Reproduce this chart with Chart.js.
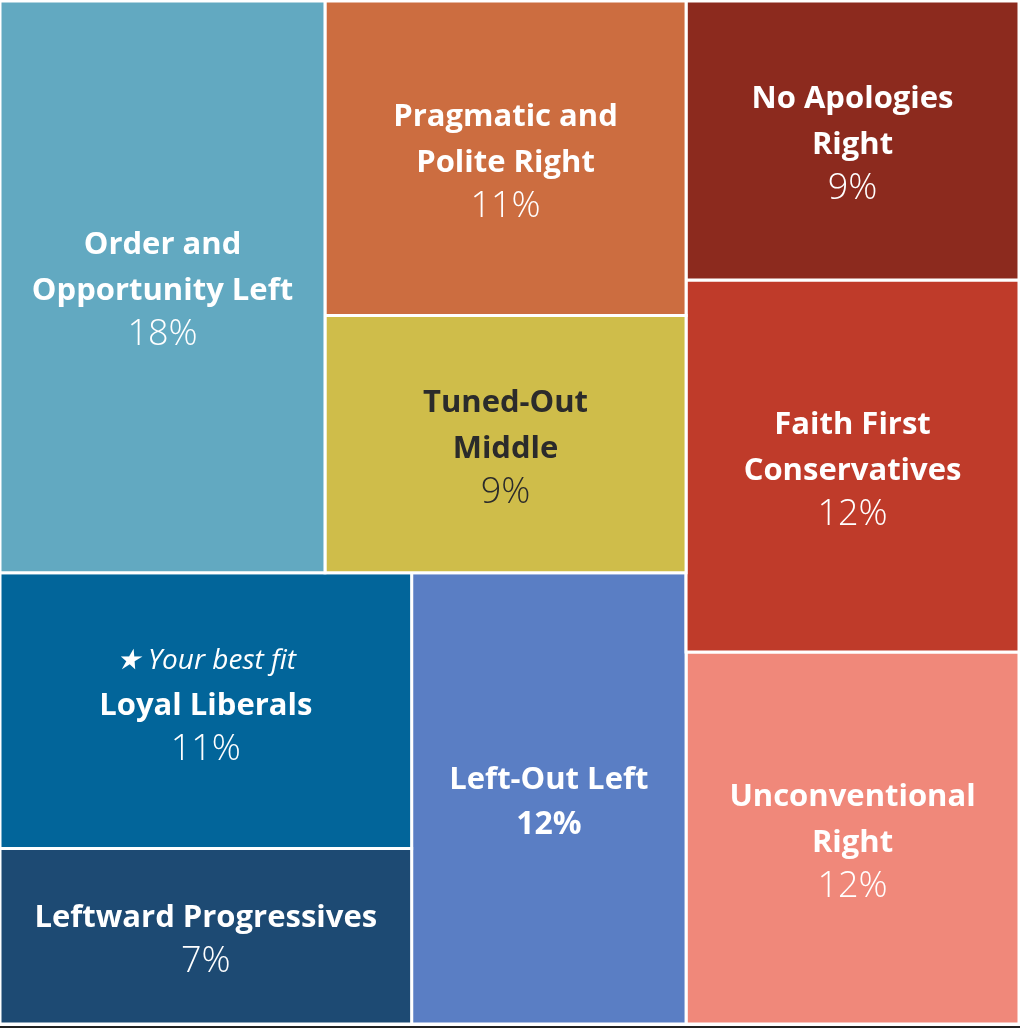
<!DOCTYPE html>
<html>
<head>
<meta charset="utf-8">
<script src="https://cdn.jsdelivr.net/npm/chart.js@4.4.1/dist/chart.umd.min.js"></script>
<style>
  html, body { margin: 0; padding: 0; background: #ffffff; }
  #wrap { position: relative; width: 1020px; height: 1026px; }
  #bar { width: 1020px; height: 2px; background: #222222; }
</style>
</head>
<body>
<div id="wrap"><canvas id="c"></canvas></div>
<div id="bar"></div>
<script>
// ---- data ----
const categories = [
  'Order and Opportunity Left',
  'Pragmatic and Polite Right',
  'Tuned-Out Middle',
  'No Apologies Right',
  'Faith First Conservatives',
  'Loyal Liberals',
  'Leftward Progressives',
  'Left-Out Left',
  'Unconventional Right'
];
const shares = [18, 11, 9, 9, 12, 11, 7, 12, 12];
const labelLines = [
  ['Order and', 'Opportunity Left'],
  ['Pragmatic and', 'Polite Right'],
  ['Tuned-Out', 'Middle'],
  ['No Apologies', 'Right'],
  ['Faith First', 'Conservatives'],
  ['Loyal Liberals'],
  ['Leftward Progressives'],
  ['Left-Out Left'],
  ['Unconventional', 'Right']
];
const colors = ['#62a9c1', '#cc6d40', '#cfbd4a', '#8c2a1e', '#bf3b2a', '#02659a', '#1d4a73', '#5a7ec4', '#f0887a'];
const textColors = ['#ffffff', '#ffffff', '#2b2b2b', '#ffffff', '#ffffff', '#ffffff', '#ffffff', '#ffffff', '#ffffff'];
const bestFitIndex = 5;
const boldPercentIndex = 7;

// nested slice-and-dice structure (indices into categories)
const layoutTree = { dir: 'h', children: [
  { dir: 'v', children: [
    { dir: 'h', children: [0, { dir: 'v', children: [1, 2] }] },
    { dir: 'h', children: [{ dir: 'v', children: [5, 6] }, 7] }
  ] },
  { dir: 'v', children: [3, 4, 8] }
] };

// ---- layout computed from the shares ----
function total(node) {
  if (typeof node === 'number') return shares[node];
  return node.children.reduce((s, c) => s + total(c), 0);
}
const rects = [];
function place(node, x0, y0, x1, y1) {
  if (typeof node === 'number') { rects[node] = { x0, y0, x1, y1 }; return; }
  const t = total(node);
  let pos = node.dir === 'h' ? x0 : y0;
  node.children.forEach(ch => {
    const f = total(ch) / t;
    if (node.dir === 'h') {
      const w = (x1 - x0) * f;
      place(ch, pos, y0, pos + w, y1); pos += w;
    } else {
      const h = (y1 - y0) * f;
      place(ch, x0, pos, x1, pos + h); pos += h;
    }
  });
}
place(layoutTree, 0, 0, 1, 1);

const datasets = categories.map((name, i) => {
  const r = rects[i];
  return {
    label: name,
    data: [
      { x: r.x0, y: r.y0 }, { x: r.x1, y: r.y0 }, { x: r.x1, y: r.y1 },
      { x: r.x0, y: r.y1 }, { x: r.x0, y: r.y0 }
    ],
    backgroundColor: colors[i],
    borderColor: '#ffffff',
    borderWidth: 3,
    fill: 'shape',
    pointRadius: 0,
    tension: 0
  };
});

const labelPlugin = {
  id: 'cellLabels',
  afterDatasetsDraw(chart) {
    const ctx = chart.ctx;
    const xs = chart.scales.x, ys = chart.scales.y;
    ctx.save();
    ctx.textAlign = 'center';
    ctx.textBaseline = 'alphabetic';
    categories.forEach((name, i) => {
      const r = rects[i];
      const cx = (xs.getPixelForValue(r.x0) + xs.getPixelForValue(r.x1)) / 2;
      const cy = (ys.getPixelForValue(r.y0) + ys.getPixelForValue(r.y1)) / 2;
      const items = [];
      if (i === bestFitIndex) items.push({ t: '\u2605 Your best fit', f: 'italic 400 28px "Open Sans"', h: 49 });
      labelLines[i].forEach(l => items.push({ t: l, f: '700 31px "Open Sans"', h: 46 }));
      items.push({ t: shares[i] + '%', f: (i === boldPercentIndex ? '700 32px "Open Sans"' : '300 36px "Open Sans"'), h: 45 });
      let H = 0;
      items.forEach((it, k) => { if (k > 0) H += it.h; });
      let y = cy - H / 2 + 13 - (i === bestFitIndex ? 9 : 0);
      ctx.fillStyle = textColors[i];
      items.forEach((it, k) => {
        if (k > 0) y += it.h;
        ctx.font = it.f;
        ctx.fillText(it.t, cx, y);
      });
    });
    ctx.restore();
  }
};

new Chart(document.getElementById('c'), {
  type: 'line',
  data: { datasets },
  options: {
    responsive: true,
    maintainAspectRatio: false,
    animation: false,
    layout: { padding: { top: 1, right: 1, bottom: 2, left: 0 } },
    plugins: { legend: { display: false }, tooltip: { enabled: false } },
    scales: {
      x: { type: 'linear', min: 0, max: 1, display: false },
      y: { type: 'linear', min: 0, max: 1, reverse: true, display: false }
    }
  },
  plugins: [labelPlugin]
});
</script>
</body>
</html>
